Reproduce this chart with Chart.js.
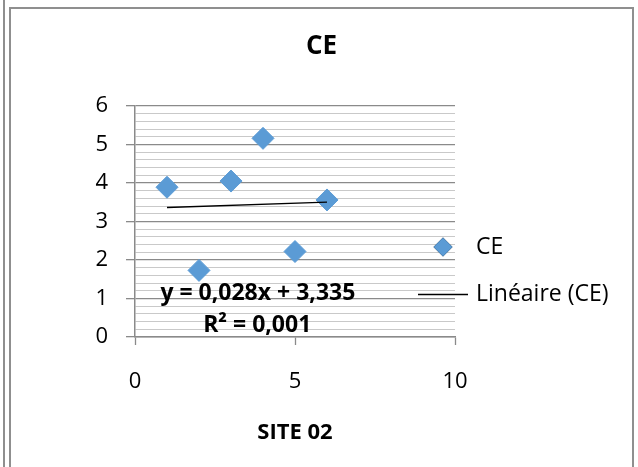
<!DOCTYPE html>
<html>
<head>
<meta charset="utf-8">
<title>CE - SITE 02</title>
<script src="https://cdn.jsdelivr.net/npm/chart.js@4.4.0/dist/chart.umd.min.js"></script>
<style>
  html, body { margin: 0; padding: 0; background: #fff; }
  #page { position: relative; width: 638px; height: 467px; overflow: hidden; }
  #outer { position: absolute; left: 3px; top: 0; height: 467px; border-left: 2px solid #8f8f8f; }
  #frame { position: absolute; left: 9px; top: 7px; width: 621px; height: 470px; border: 2px solid #8f8f8f; border-bottom: none; }
  #chart-box { position: absolute; left: 0; top: 0; width: 621px; height: 458px; }
</style>
</head>
<body>
<div id="page">
  <div id="outer"></div>
  <div id="frame">
    <div id="chart-box"><canvas id="myChart" width="621" height="458"></canvas></div>
  </div>
</div>
<script>
// values
const siteX = [1, 2, 3, 4, 5, 6];
const ceValues = [3.89, 1.73, 4.05, 5.16, 2.22, 3.56];
const trendSlope = 0.028;
const trendIntercept = 3.335;
const rSquared = 0.001;
const xTickValues = [0, 5, 10];
const yTickValues = [0, 1, 2, 3, 4, 5, 6];
const chartTitle = "CE";
const xTitle = "SITE 02";
const seriesName = "CE";
const trendName = "Linéaire (CE)";

const FONT = "'Open Sans', 'DejaVu Sans', sans-serif";
const BLUE = "#5b9bd5";
const MAJOR = "#8a8a8a";
const MINOR = "#c9c9c9";

const frStr = (v) => v.toFixed(3).replace(".", ",");
const isMajor = (v) => Math.abs(v - Math.round(v)) < 1e-6;

const trendPoints = [siteX[0], siteX[siteX.length - 1]].map((x) => ({
  x: x,
  y: trendIntercept + trendSlope * x,
}));

// title, legend and equation drawn by hand so they sit like in the excel chart
const overlayPlugin = {
  id: "overlay",
  afterDraw(chart) {
    const c = chart.ctx;
    const xs = chart.scales.x;
    const ys = chart.scales.y;
    c.save();
    c.fillStyle = "#000";
    c.textAlign = "center";
    c.textBaseline = "middle";

    c.font = "bold 26px " + FONT;
    c.fillText(chartTitle, chart.width / 2, 38);

    c.font = "bold 23px " + FONT;
    c.fillText(
      `y = ${frStr(trendSlope)}x + ${frStr(trendIntercept)}`,
      xs.getPixelForValue(3.84),
      ys.getPixelForValue(1.14)
    );
    c.fillText(`R² = ${frStr(rSquared)}`, xs.getPixelForValue(3.82), ys.getPixelForValue(0.31));

    // legend
    c.textAlign = "left";
    c.font = "23px " + FONT;
    Chart.helpers.drawPoint(
      c,
      { pointStyle: "rectRot", radius: 9.5, borderWidth: 0, rotation: 0 },
      432,
      238
    );
    c.fillStyle = BLUE;
    c.fill();
    c.fillStyle = "#000";
    c.fillText(seriesName, 465, 238);
    c.strokeStyle = "#000";
    c.lineWidth = 1.3;
    c.beginPath();
    c.moveTo(407, 285.5);
    c.lineTo(457, 285.5);
    c.stroke();
    c.fillText(trendName, 465, 285);
    c.restore();
  },
};

Chart.defaults.font.family = FONT;
Chart.defaults.color = "#000";

const ctx = document.getElementById("myChart");
new Chart(ctx, {
  type: "scatter",
  data: {
    datasets: [
      {
        label: trendName,
        type: "line",
        data: trendPoints,
        showLine: true,
        borderColor: "#000",
        borderWidth: 1.3,
        pointRadius: 0,
        order: 0,
      },
      {
        label: seriesName,
        data: siteX.map((x, i) => ({ x: x, y: ceValues[i] })),
        pointStyle: "rectRot",
        pointRadius: 11,
        pointBackgroundColor: BLUE,
        pointBorderColor: BLUE,
        pointBorderWidth: 1,
        order: 1,
      },
    ],
  },
  options: {
    responsive: false,
    animation: false,
    devicePixelRatio: 1,
    layout: { padding: { left: 0, right: 177, top: 97, bottom: 0 } },
    plugins: {
      legend: { display: false },
      tooltip: { enabled: false },
      title: { display: false },
    },
    scales: {
      x: {
        type: "linear",
        min: xTickValues[0],
        max: xTickValues[xTickValues.length - 1],
        afterBuildTicks: (scale) => {
          scale.ticks = xTickValues.map((v) => ({ value: v }));
        },
        ticks: { font: { size: 22 }, padding: 24, maxRotation: 0 },
        grid: { drawOnChartArea: false, tickLength: 8, tickColor: MAJOR, tickWidth: 1.3 },
        border: { color: MAJOR, width: 1.5 },
        title: {
          display: true,
          text: xTitle,
          font: { size: 22, weight: "bold" },
          padding: { top: 0, bottom: 21 },
        },
        afterFit: (scale) => {
          scale.height = 130;
        },
      },
      y: {
        min: yTickValues[0],
        max: yTickValues[yTickValues.length - 1],
        ticks: {
          stepSize: 0.2,
          autoSkip: false,
          font: { size: 22 },
          padding: 18,
          callback: (v) => (isMajor(v) && yTickValues.includes(Math.round(v)) ? String(Math.round(v)) : ""),
        },
        grid: {
          tickLength: 9,
          color: (c) => (isMajor(c.tick.value) ? MAJOR : MINOR),
          tickColor: (c) => (isMajor(c.tick.value) ? MAJOR : "rgba(0,0,0,0)"),
          lineWidth: (c) => (isMajor(c.tick.value) ? 1.3 : 1),
        },
        border: { color: MAJOR, width: 1.5 },
        afterFit: (scale) => {
          scale.width = 124;
        },
      },
    },
  },
  plugins: [overlayPlugin],
});
</script>
</body>
</html>
